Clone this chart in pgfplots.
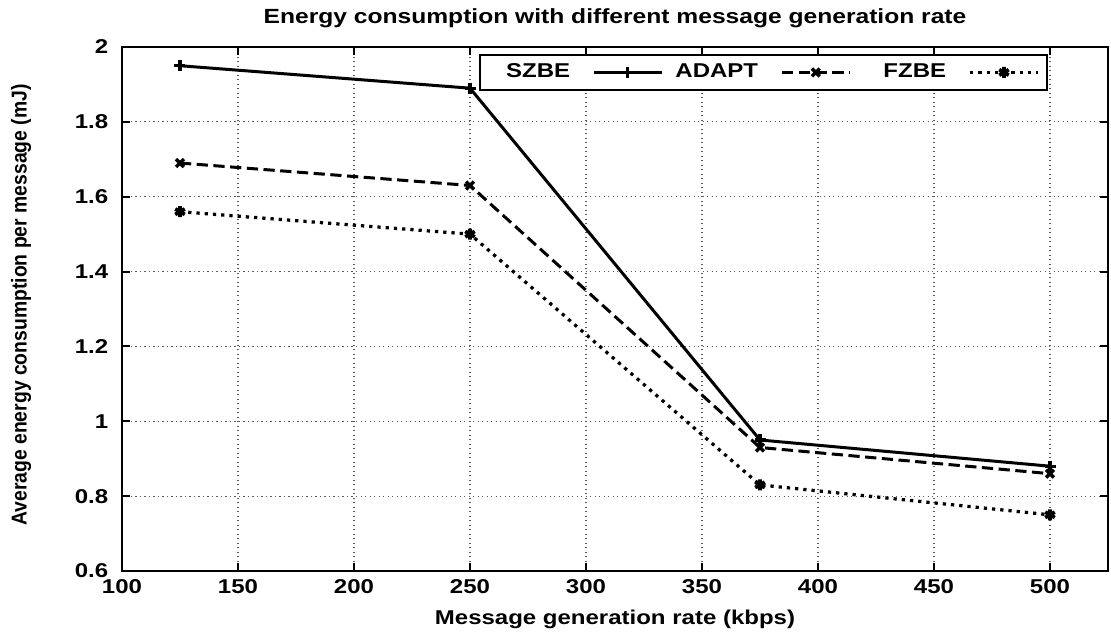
\documentclass[border=0pt]{standalone}
\usepackage{pgfplots}
\pgfplotsset{compat=1.18}
\usepackage{fontspec}
\setmainfont[FakeStretch=1.2]{Liberation Sans}
\newfontfamily\ylfont[FakeStretch=0.9]{Liberation Sans}
\newcommand{\lab}{\fontsize{8}{9.5}\selectfont\bfseries}
\begin{document}
\begin{tikzpicture}
\begin{axis}[
  at={(0,0)}, anchor=south west,
  width=394.4pt, height=209.6pt, scale only axis,
  xmin=100, xmax=525, ymin=0.6, ymax=2,
  xtick={100,150,...,500},
  ytick={0.6,0.8,1,1.2,1.4,1.6,1.8,2},
  yticklabels={0.6,0.8,1,1.2,1.4,1.6,1.8,2},
  /pgf/number format/assume math mode=true,
  tick label style={font=\lab},
  yticklabel style={xshift=-2pt},
  tick align=inside, major tick length=3.2pt,
  tick style={line width=0.8pt, black},
  grid=major,
  major grid style={gray!70!black, line width=0.5pt, dash pattern=on 0.5pt off 1.3pt},
  axis line style={line width=0.9pt},
  title={Energy consumption with different message generation rate},
  title style={font=\fontsize{8.2}{9.5}\selectfont\bfseries, at={(rel axis cs:0.5,1)}, anchor=center, yshift=5.4pt},
  xlabel={Message generation rate (kbps)},
  xlabel style={font=\lab, at={(rel axis cs:0.5,0)}, anchor=center, yshift=-19.2pt},
  ylabel={Average energy consumption per message (mJ)},
  ylabel style={font=\ylfont\fontsize{8.6}{10}\selectfont\bfseries,
    at={([xshift=-40.4pt, yshift=1.6pt]rel axis cs:0,0.5)}, anchor=center},
  legend columns=3,
  legend plot pos=right,
  legend style={at={(rel axis cs:0.939,0.987)}, anchor=north east,
    font=\lab, draw=black, line width=0.8pt,
    inner xsep=3pt, inner ysep=1.5pt,
    /tikz/every odd column/.append style={column sep=7pt},
    /tikz/every even column/.append style={column sep=5pt}},
  legend image code/.code={
    \draw[#1, mark=none] (0pt,0pt) -- (27pt,0pt);
    \path[#1] plot coordinates {(13.5pt,0pt)};
  },
]
\addplot[black, line width=1.2pt, mark=+, mark size=2.2pt, mark options={solid, line width=1.3pt}]
  coordinates {(125,1.95) (250,1.89) (375,0.95) (500,0.88)};
\addlegendentry{\makebox[31pt][r]{SZBE}}
\addplot[black, line width=1.2pt, dash pattern=on 4.5pt off 2.2pt, mark=x, mark size=2.2pt, mark options={solid, line width=1.4pt}]
  coordinates {(125,1.69) (250,1.63) (375,0.93) (500,0.86)};
\addlegendentry{\makebox[31pt][r]{ADAPT}}
\addplot[black, line width=1.3pt, dash pattern=on 1.3pt off 2pt, mark=asterisk, mark size=2.2pt, mark options={solid, line width=1.5pt}]
  coordinates {(125,1.56) (250,1.50) (375,0.83) (500,0.75)};
\addlegendentry{\makebox[31pt][r]{FZBE}}
\end{axis}
\pgfresetboundingbox
\path (-48.8pt,-25.6pt) rectangle (395.6pt,228.4pt);
\end{tikzpicture}
\end{document}
